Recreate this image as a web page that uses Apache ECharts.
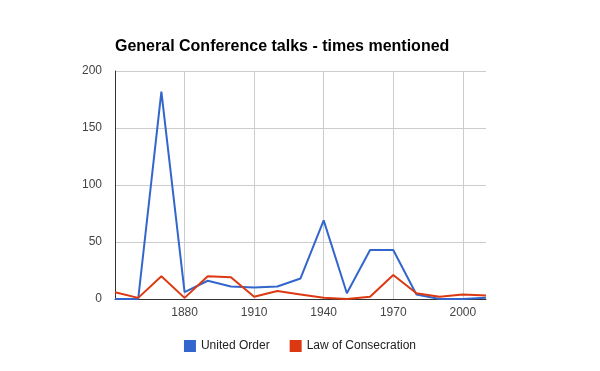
<!DOCTYPE html>
<html>
<head>
<meta charset="utf-8">
<script src="https://cdn.jsdelivr.net/npm/echarts@6/dist/echarts.min.js"></script>
<style>html,body{margin:0;padding:0;background:#fff}#c{width:600px;height:371px}</style>
</head>
<body>
<div id="c"></div>
<script>
var years = [1850,1860,1870,1880,1890,1900,1910,1920,1930,1940,1950,1960,1970,1980,1990,2000,2010];
var unitedOrder = [0,0,182,6,16,11,10,11,18,69,5,43,43,4,0,0,1];
var lawOfConsecration = [6,1,20,1,20,19,2,7,4,1,0,2,21,5,2,4,3];
var yTicks = [0,50,100,150,200];
var xTicks = [1880,1910,1940,1970,2000];

function pairs(vals){ return years.map(function(y,i){ return [y, vals[i]]; }); }

var chart = echarts.init(document.getElementById('c'), null, {renderer:'canvas'});
chart.setOption({
  animation: false,
  backgroundColor: '#fff',
  title: {
    text: 'General Conference talks - times mentioned',
    left: 110, top: 34,
    textStyle: {fontFamily: 'Arial, Liberation Sans', fontSize: 16, fontWeight: 'bold', color: '#000'}
  },
  legend: {
    top: 335, left: 'center',
    icon: 'rect', itemWidth: 12, itemHeight: 12, itemGap: 20,
    textStyle: {fontFamily: 'Arial, Liberation Sans', fontSize: 12, color: '#222'},
    data: ['United Order', 'Law of Consecration']
  },
  grid: {left: 115, right: 114, top: 71, bottom: 72, containLabel: false},
  xAxis: {
    type: 'value', min: 1850, max: 2010, interval: 30,
    axisLine: {show: true, lineStyle: {color: '#333', width: 1}},
    axisTick: {show: false},
    axisLabel: {
      showMinLabel: false, showMaxLabel: false, margin: 8,
      fontFamily: 'Arial, Liberation Sans', fontSize: 12, color: '#444',
      formatter: function(v){ return xTicks.indexOf(v) >= 0 ? String(v) : ''; }
    },
    splitLine: {show: true, showMinLine: false, showMaxLine: false, lineStyle: {color: '#ccc', width: 1}}
  },
  yAxis: {
    type: 'value', min: yTicks[0], max: yTicks[yTicks.length-1], interval: 50,
    axisLine: {show: true, lineStyle: {color: '#333', width: 1}},
    axisTick: {show: false},
    axisLabel: {margin: 13, fontFamily: 'Arial, Liberation Sans', fontSize: 12, color: '#444'},
    splitLine: {show: true, lineStyle: {color: '#ccc', width: 1}}
  },
  series: [
    {name: 'United Order', type: 'line', data: pairs(unitedOrder), showSymbol: false,
     lineStyle: {width: 2, color: '#3366cc'}, itemStyle: {color: '#3366cc'}},
    {name: 'Law of Consecration', type: 'line', data: pairs(lawOfConsecration), showSymbol: false,
     lineStyle: {width: 2, color: '#dc3912'}, itemStyle: {color: '#dc3912'}}
  ]
});
</script>
</body>
</html>
